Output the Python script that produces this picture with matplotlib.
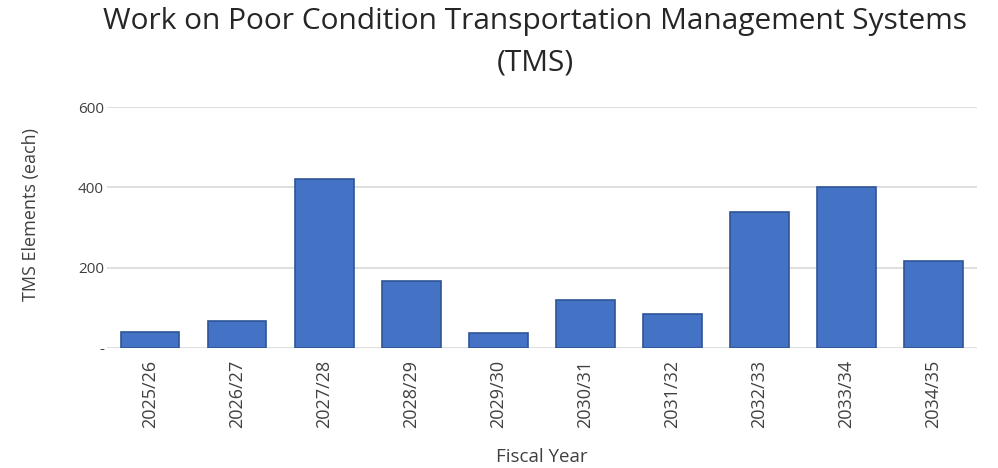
import numpy as np
import matplotlib
matplotlib.use('Agg')
import matplotlib.pyplot as plt

years = ['2025/26', '2026/27', '2027/28', '2028/29', '2029/30',
         '2030/31', '2031/32', '2032/33', '2033/34', '2034/35']
tms = [40, 67, 422, 167, 36, 120, 84, 339, 400, 217]
yticks = [0, 200, 400, 600]
ytick_labels = ['-', '200', '400', '600']

plt.rcParams['font.family'] = ['Open Sans', 'DejaVu Sans']
txt = '#404040'

fig = plt.figure(figsize=(9.98, 4.68), dpi=100)
ax = fig.add_axes([0.107, 0.257, 0.872, 0.514])

x = np.arange(len(years))
ax.bar(x, tms, width=0.67, color='#4472C4', edgecolor='#2F5597', linewidth=1.2, zorder=3)

ax.set_xlim(-0.5, len(years) - 0.5)
ax.set_ylim(0, 600)
ax.set_yticks(yticks)
ax.set_yticklabels(ytick_labels)
ax.set_xticks(x)
ax.set_xticklabels(years, rotation=90)
ax.tick_params(axis='both', length=0, colors=txt)
ax.tick_params(axis='y', pad=2, labelsize=11)
ax.tick_params(axis='x', pad=9, labelsize=13)
ax.grid(axis='y', color='#D9D9D9', linewidth=1.2, zorder=0)
for s in ax.spines.values():
    s.set_visible(False)

ax.set_ylabel('TMS Elements (each)', color=txt, fontsize=13)
ax.yaxis.set_label_coords(-0.077, 0.555)
ax.set_xlabel('Fiscal Year', color=txt, fontsize=13.5, labelpad=14)

fig.text(0.536, 0.985, 'Work on Poor Condition Transportation Management Systems\n(TMS)',
         ha='center', va='top', fontsize=21.5, color='#262626', linespacing=1.55)

fig.savefig('out.png', dpi=100, facecolor='white')
